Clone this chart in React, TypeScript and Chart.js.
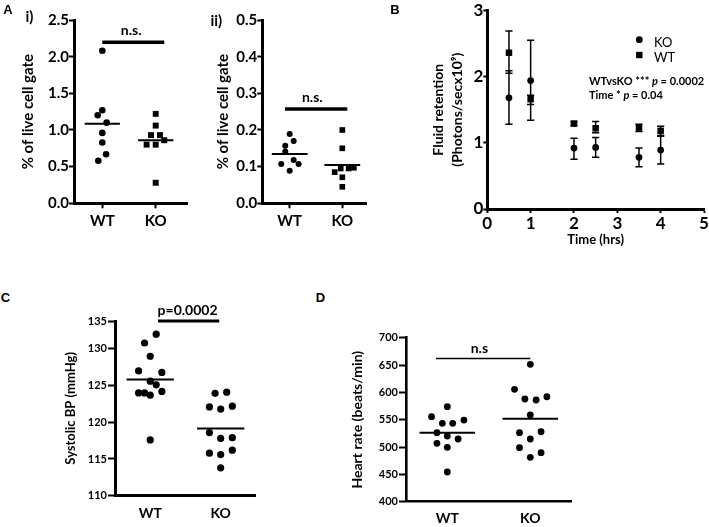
import React, { useEffect, useRef } from 'react';
import { Chart, registerables } from 'chart.js';

Chart.register(...registerables);

const FONT = 'Lato, "Open Sans", sans-serif';
Chart.defaults.font.family = FONT;
Chart.defaults.color = '#000';

const groups = ['WT', 'KO'];

// ---- Panel A i) ----
const a1WT = [2.08, 1.27, 1.2, 1.1, 0.96, 0.83, 0.67, 0.58];
const a1WTSpread = [0, 0, -0.086, 0.082, 0, 0, 0.07, -0.075];
const a1KO = [1.22, 1.06, 0.93, 0.93, 0.8, 0.8, 0.86, 0.28];
const a1KOSpread = [0, 0, -0.088, 0.08, -0.17, 0, 0.16, 0];
const a1Ticks = [0, 0.5, 1, 1.5, 2, 2.5];
const a1TickLabels = ['0.0', '0.5', '1.0', '1.5', '2.0', '2.5'];

// ---- Panel A ii) ----
const a2WT = [0.189, 0.17, 0.157, 0.141, 0.118, 0.107, 0.107, 0.089];
const a2WTSpread = [0, 0.076, -0.084, -0.084, 0.076, -0.16, 0.17, 0];
const a2KO = [0.2, 0.15, 0.097, 0.095, 0.095, 0.085, 0.071, 0.045];
const a2KOSpread = [0, 0, 0.22, 0.12, -0.03, -0.145, 0, 0];
const a2Ticks = [0, 0.1, 0.2, 0.3, 0.4, 0.5];
const a2TickLabels = ['0.0', '0.1', '0.2', '0.3', '0.4', '0.5'];

// ---- Panel B ----
const bTimes = [0.5, 1, 2, 2.5, 3.5, 4];
const bKO = [1.68, 1.94, 0.92, 0.93, 0.78, 0.89];
const bKOHigh = [2.09, 2.55, 1.07, 1.08, 0.92, 1.11];
const bKOLow = [1.28, 1.34, 0.75, 0.78, 0.64, 0.68];
const bWT = [2.36, 1.66, 1.29, 1.22, 1.23, 1.18];
const bWTHigh = [2.69, 1.72, 1.32, 1.32, 1.28, 1.25];
const bWTLow = [2.05, 1.58, 1.26, 1.15, 1.17, 1.1];
const bXTicks = [0, 1, 2, 3, 4, 5];
const bYTicks = [0, 1, 2, 3];

// ---- Panel C ----
const cWT = [132, 130.8, 129, 127, 126.8, 125.6, 125.1, 124, 124, 123.7, 124.2, 117.6];
const cWTSpread = [0.085, -0.08, 0, -0.165, 0.165, 0, 0.085, -0.165, -0.08, 0, 0.165, 0];
const cKO = [123.95, 124.1, 122.1, 121.8, 122.2, 118.6, 117.8, 117.9, 115.8, 115.6, 116.2, 113.8];
const cKOSpread = [-0.08, 0.085, -0.16, 0, 0.165, -0.16, 0, 0.165, -0.16, 0, 0.165, 0];
const cTickValues = [110, 115, 120, 125, 130, 133.8];
const cTickLabels = ['110', '115', '120', '125', '130', '135'];

// ---- Panel D ----
const dWT = [573.8, 555.5, 543.4, 543.4, 549.4, 526.2, 520.2, 514.7, 506.8, 499.5, 454.3];
const dWTSpread = [0, -0.19, -0.06, 0.065, 0.2, -0.125, 0, 0.13, -0.125, 0, 0];
const dKO = [651.3, 605.6, 587.9, 586, 592, 558.6, 526.2, 528, 514.7, 498.8, 489.6, 481.2];
const dKOSpread = [0, -0.19, -0.065, 0.07, 0.2, 0, -0.13, 0.13, 0, -0.13, 0.13, 0];
const dTicks = [400, 450, 500, 550, 600, 650, 700];
const dTickLabels = ['400', '450', '500', '550', '600', '650', '700'];

const mean = (a: number[]) => a.reduce((s, v) => s + v, 0) / a.length;

const panelTextPlugin = {
  id: 'panelText',
  afterDatasetsDraw(chart: any, _args: any, opts: any) {
    const { ctx, scales } = chart;
    const items = opts.items || [];
    for (let i = 0; i < items.length; i++) {
      const it = items[i];
      ctx.save();
      ctx.fillStyle = '#000';
      ctx.font = `bold ${it.size}px ${FONT}`;
      ctx.textAlign = 'center';
      ctx.textBaseline = 'middle';
      ctx.fillText(it.text, scales.x.getPixelForValue(it.x), scales.y.getPixelForValue(it.y) + it.dy);
      ctx.restore();
    }
  },
};

const errorBarPlugin = {
  id: 'errorBars',
  beforeDatasetsDraw(chart: any, _args: any, opts: any) {
    const { ctx, scales } = chart;
    ctx.save();
    ctx.strokeStyle = '#000';
    ctx.lineWidth = opts.lineWidth;
    const sets = opts.sets || [];
    for (let s = 0; s < sets.length; s++) {
      const set = sets[s];
      for (let i = 0; i < set.x.length; i++) {
        const px = scales.x.getPixelForValue(set.x[i]);
        const top = scales.y.getPixelForValue(set.hi[i]);
        const bot = scales.y.getPixelForValue(set.lo[i]);
        ctx.beginPath();
        ctx.moveTo(px, top);
        ctx.lineTo(px, bot);
        ctx.moveTo(px - opts.cap, top);
        ctx.lineTo(px + opts.cap, top);
        ctx.moveTo(px - opts.cap, bot);
        ctx.lineTo(px + opts.cap, bot);
        ctx.stroke();
      }
    }
    ctx.restore();
  },
};

const bNotesPlugin = {
  id: 'bNotes',
  afterDatasetsDraw(chart: any, _args: any, opts: any) {
    const { ctx, chartArea } = chart;
    const L = chartArea.left;
    const T = chartArea.top;
    ctx.save();
    ctx.fillStyle = '#000';
    const legend = opts.legend || [];
    for (let i = 0; i < legend.length; i++) {
      const it = legend[i];
      const ds = chart.data.datasets[it.dataset];
      const mx = L + it.mx;
      const my = T + it.my;
      ctx.beginPath();
      if (ds.pointStyle === 'circle') ctx.arc(mx, my, it.r, 0, Math.PI * 2);
      else ctx.rect(mx - it.r, my - it.r, 2 * it.r, 2 * it.r);
      ctx.fill();
      ctx.font = `${it.size}px ${FONT}`;
      ctx.textAlign = 'left';
      ctx.textBaseline = 'middle';
      ctx.fillText(ds.label, L + it.tx, T + it.ty);
    }
    const lines = opts.lines || [];
    for (let i = 0; i < lines.length; i++) {
      const ln = lines[i];
      let x = L + ln.x;
      const y = T + ln.y;
      for (let j = 0; j < ln.parts.length; j++) {
        const p = ln.parts[j];
        ctx.font = `${p.italic ? 'italic ' : ''}bold ${ln.size}px ${FONT}`;
        ctx.textAlign = 'left';
        ctx.textBaseline = 'middle';
        ctx.fillText(p.t, x, y);
        x += ctx.measureText(p.t).width;
      }
    }
    ctx.restore();
  },
};

type DotSpec = {
  wt: number[]; wtSpread: number[]; ko: number[]; koSpread: number[];
  koShape: string; dotR: number; sqR: number;
  xMin: number; xMax: number; yMin: number; yMax: number;
  yTicks: number[]; yLabels: string[];
  sig: { from: number; to: number; y: number; text: string; textX: number; dy: number; width: number; size: number };
  meanHalf: number; meanWidth: number; axisWidth: number;
  yTitle: string; yTitleSize: number; yTitlePad: number;
  yTickSize: number; yTickLen: number; yTickPad: number;
  xTickSize: number; xTickLen: number; xTickPad: number;
  box: { yAxisW: number; xAxisH: number; padTop: number; padRight: number };
};

function dotConfig(s: DotSpec): any {
  const toPts = (vals: number[], spread: number[], c: number) => vals.map((v, i) => ({ x: c + spread[i], y: v }));
  const mw = mean(s.wt);
  const mk = mean(s.ko);
  const lineDs = (pts: any[], w: number) => ({
    type: 'line', data: pts, borderColor: '#000', borderWidth: w, pointRadius: 0,
    fill: false, clip: false, tension: 0, borderCapStyle: 'butt',
  });
  return {
    type: 'scatter',
    data: {
      datasets: [
        { label: 'WT', data: toPts(s.wt, s.wtSpread, 1), pointStyle: 'circle', pointRadius: s.dotR,
          pointBackgroundColor: '#000', backgroundColor: '#000', pointBorderWidth: 0, borderWidth: 0, clip: false },
        { label: 'KO', data: toPts(s.ko, s.koSpread, 2), pointStyle: s.koShape,
          pointRadius: s.koShape === 'rect' ? s.sqR : s.dotR,
          pointBackgroundColor: '#000', backgroundColor: '#000', pointBorderWidth: 0, borderWidth: 0, clip: false },
        lineDs([{ x: 1 - s.meanHalf, y: mw }, { x: 1 + s.meanHalf, y: mw }], s.meanWidth),
        lineDs([{ x: 2 - s.meanHalf, y: mk }, { x: 2 + s.meanHalf, y: mk }], s.meanWidth),
        lineDs([{ x: s.sig.from, y: s.sig.y }, { x: s.sig.to, y: s.sig.y }], s.sig.width),
      ],
    },
    options: {
      responsive: false,
      animation: false,
      devicePixelRatio: 1,
      events: [],
      layout: { padding: { left: 0, top: s.box.padTop, right: s.box.padRight, bottom: 0 } },
      plugins: {
        legend: { display: false },
        tooltip: { enabled: false },
        panelText: { items: [{ text: s.sig.text, x: s.sig.textX, y: s.sig.y, dy: s.sig.dy, size: s.sig.size }] },
      },
      scales: {
        x: {
          type: 'linear', min: s.xMin, max: s.xMax,
          afterBuildTicks: (ax: any) => { ax.ticks = [{ value: 1 }, { value: 2 }]; },
          afterFit: (ax: any) => { ax.height = s.box.xAxisH; },
          ticks: {
            callback: (v: number) => groups[Math.round(v) - 1] ?? '',
            color: '#000', font: { family: FONT, size: s.xTickSize, weight: 'bold' },
            padding: s.xTickPad, autoSkip: false, maxRotation: 0, minRotation: 0,
          },
          grid: { drawOnChartArea: false, drawTicks: s.xTickLen > 0, tickLength: s.xTickLen, tickWidth: 2, tickColor: '#000' },
          border: { display: true, color: '#000', width: s.axisWidth },
        },
        y: {
          type: 'linear', min: s.yMin, max: s.yMax,
          afterBuildTicks: (ax: any) => { ax.ticks = s.yTicks.map((v) => ({ value: v })); },
          afterFit: (ax: any) => { ax.width = s.box.yAxisW; },
          ticks: {
            callback: (_v: number, i: number) => s.yLabels[i],
            color: '#000', font: { family: FONT, size: s.yTickSize, weight: 'bold' },
            padding: s.yTickPad, autoSkip: false,
          },
          grid: { drawOnChartArea: false, drawTicks: true, tickLength: s.yTickLen, tickWidth: 2, tickColor: '#000' },
          border: { display: true, color: '#000', width: s.axisWidth },
          title: {
            display: true, text: s.yTitle, color: '#000',
            font: { family: FONT, size: s.yTitleSize, weight: 'bold' },
            padding: { top: s.yTitlePad, bottom: 0 },
          },
        },
      },
    },
    plugins: [panelTextPlugin],
  };
}

const specA1: DotSpec = {
  wt: a1WT, wtSpread: a1WTSpread, ko: a1KO, koSpread: a1KOSpread,
  koShape: 'rect', dotR: 3.3, sqR: 4.2,
  xMin: 0.47, xMax: 2.586, yMin: 0, yMax: 2.5, yTicks: a1Ticks, yLabels: a1TickLabels,
  sig: { from: 1, to: 2.16, y: 2.195, text: 'n.s.', textX: 1.54, dy: -11.6, width: 3.5, size: 14 },
  meanHalf: 0.33, meanWidth: 2, axisWidth: 3,
  yTitle: '% of live cell gate', yTitleSize: 15, yTitlePad: 9.3,
  yTickSize: 15, yTickLen: 5, yTickPad: 0,
  xTickSize: 15, xTickLen: 5, xTickPad: 3.7,
  box: { yAxisW: 64, xAxisH: 28.7, padTop: 30, padRight: 5 },
};

const specA2: DotSpec = {
  wt: a2WT, wtSpread: a2WTSpread, ko: a2KO, koSpread: a2KOSpread,
  koShape: 'rect', dotR: 3, sqR: 4,
  xMin: 0.48, xMax: 2.45, yMin: 0, yMax: 0.5, yTicks: a2Ticks, yLabels: a2TickLabels,
  sig: { from: 0.91, to: 2.095, y: 0.257, text: 'n.s.', textX: 1.43, dy: -11.7, width: 3.5, size: 14 },
  meanHalf: 0.34, meanWidth: 2, axisWidth: 3,
  yTitle: '% of live cell gate', yTitleSize: 15, yTitlePad: 14.3,
  yTickSize: 15, yTickLen: 5, yTickPad: 0,
  xTickSize: 15, xTickLen: 5, xTickPad: 3.7,
  box: { yAxisW: 62.3, xAxisH: 28.7, padTop: 30, padRight: 6 },
};

const specC: DotSpec = {
  wt: cWT, wtSpread: cWTSpread, ko: cKO, koSpread: cKOSpread,
  koShape: 'circle', dotR: 3.6, sqR: 4,
  xMin: 0.5, xMax: 2.487, yMin: 110, yMax: 133.8, yTicks: cTickValues, yLabels: cTickLabels,
  sig: { from: 1.11, to: 1.98, y: 133.8, text: 'p=0.0002', textX: 1.53, dy: -11, width: 3.2, size: 14 },
  meanHalf: 0.335, meanWidth: 2, axisWidth: 3,
  yTitle: 'Systolic BP (mmHg)', yTitleSize: 13, yTitlePad: 8.2,
  yTickSize: 11, yTickLen: 7, yTickPad: 1,
  xTickSize: 14, xTickLen: 0, xTickPad: 9.2,
  box: { yAxisW: 60, xAxisH: 31.3, padTop: 41, padRight: 15 },
};

const specD: DotSpec = {
  wt: dWT, wtSpread: dWTSpread, ko: dKO, koSpread: dKOSpread,
  koShape: 'circle', dotR: 3.4, sqR: 4,
  xMin: 0.502, xMax: 2.499, yMin: 400, yMax: 700, yTicks: dTicks, yLabels: dTickLabels,
  sig: { from: 0.864, to: 2.0, y: 662, text: 'n.s', textX: 1.386, dy: -10, width: 1.6, size: 14 },
  meanHalf: 0.335, meanWidth: 2, axisWidth: 2.6,
  yTitle: 'Heart rate (beats/min)', yTitleSize: 14, yTitlePad: 8.9,
  yTickSize: 11, yTickLen: 7, yTickPad: 1,
  xTickSize: 14, xTickLen: 0, xTickPad: 8.2,
  box: { yAxisW: 66, xAxisH: 25.3, padTop: 37.7, padRight: 18.3 },
};

function bConfig(): any {
  return {
    type: 'scatter',
    data: {
      datasets: [
        { label: 'KO', data: bTimes.map((t, i) => ({ x: t, y: bKO[i] })), pointStyle: 'circle', pointRadius: 3.4,
          pointBackgroundColor: '#000', backgroundColor: '#000', pointBorderWidth: 0, borderWidth: 0, clip: false },
        { label: 'WT', data: bTimes.map((t, i) => ({ x: t, y: bWT[i] })), pointStyle: 'rect', pointRadius: 4.6,
          pointBackgroundColor: '#000', backgroundColor: '#000', pointBorderWidth: 0, borderWidth: 0, clip: false },
      ],
    },
    options: {
      responsive: false,
      animation: false,
      devicePixelRatio: 1,
      events: [],
      layout: { padding: { left: 0, top: 20.4, right: 16, bottom: 0 } },
      plugins: {
        legend: { display: false },
        tooltip: { enabled: false },
        errorBars: {
          lineWidth: 1.5, cap: 3.6,
          sets: [
            { x: bTimes, hi: bKOHigh, lo: bKOLow },
            { x: bTimes, hi: bWTHigh, lo: bWTLow },
          ],
        },
        bNotes: {
          legend: [
            { dataset: 0, mx: 152, my: 29.3, r: 3.4, tx: 166.7, ty: 32.3, size: 13 },
            { dataset: 1, mx: 152, my: 44.6, r: 3.2, tx: 166.7, ty: 47.9, size: 13 },
          ],
          lines: [
            { x: 101.7, y: 71.3, size: 11, parts: [{ t: 'WTvsKO *** ' }, { t: 'p', italic: true }, { t: ' = 0.0002' }] },
            { x: 101.7, y: 84.6, size: 11, parts: [{ t: 'Time * ' }, { t: 'p', italic: true }, { t: ' = 0.04' }] },
          ],
        },
      },
      scales: {
        x: {
          type: 'linear', min: 0, max: 5,
          afterBuildTicks: (ax: any) => { ax.ticks = bXTicks.map((v) => ({ value: v })); },
          afterFit: (ax: any) => { ax.height = 41; },
          ticks: { color: '#000', font: { family: FONT, size: 17, weight: 'bold' }, padding: 0, autoSkip: false, maxRotation: 0 },
          grid: { drawOnChartArea: false, drawTicks: true, tickLength: 4, tickWidth: 2, tickColor: '#000' },
          border: { display: true, color: '#000', width: 3 },
          title: {
            display: true, text: 'Time (hrs)', color: '#000',
            font: { family: FONT, size: 13, weight: 'bold' },
            padding: { top: 0, bottom: 2.1 },
          },
        },
        y: {
          type: 'linear', min: 0, max: 3,
          afterBuildTicks: (ax: any) => { ax.ticks = bYTicks.map((v) => ({ value: v })); },
          afterFit: (ax: any) => { ax.width = 67.3; },
          ticks: { color: '#000', font: { family: FONT, size: 17, weight: 'bold' }, padding: 0, autoSkip: false },
          grid: { drawOnChartArea: false, drawTicks: true, tickLength: 4, tickWidth: 2, tickColor: '#000' },
          border: { display: true, color: '#000', width: 3 },
          title: {
            display: true, text: ['Fluid retention', '(Photons/secx10⁹)'], color: '#000',
            font: { family: FONT, size: 14, weight: 'bold', lineHeight: '19px' },
            padding: { top: 8.5, bottom: 0 },
          },
        },
      },
    },
    plugins: [errorBarPlugin, bNotesPlugin],
  };
}

const canvasBoxes = [
  { left: 10, top: -10, w: 182, h: 242 },
  { left: 200, top: -10, w: 172, h: 242 },
  { left: 420, top: -10, w: 300, h: 260 },
  { left: 55, top: 280, w: 215, h: 247 },
  { left: 340, top: 300, w: 250, h: 227 },
];

const textLabels = [
  { text: 'A', x: 8, y: 9, font: `bold 13px "Liberation Sans", Arial, sans-serif` },
  { text: 'i)', x: 29.5, y: 15.5, font: `bold 15px ${FONT}` },
  { text: 'ii)', x: 216.3, y: 20, font: `bold 15px ${FONT}` },
  { text: 'B', x: 395, y: 9, font: `bold 13px "Liberation Sans", Arial, sans-serif` },
  { text: 'C', x: 5.5, y: 297, font: `bold 13px "Liberation Sans", Arial, sans-serif` },
  { text: 'D', x: 320.5, y: 297, font: `bold 13px "Liberation Sans", Arial, sans-serif` },
];

export default function App() {
  const refs = [useRef<HTMLCanvasElement>(null), useRef<HTMLCanvasElement>(null), useRef<HTMLCanvasElement>(null),
    useRef<HTMLCanvasElement>(null), useRef<HTMLCanvasElement>(null)];

  useEffect(() => {
    const configs = [dotConfig(specA1), dotConfig(specA2), bConfig(), dotConfig(specC), dotConfig(specD)];
    const charts: Chart[] = [];
    configs.forEach((cfg, i) => {
      const el = refs[i].current;
      if (el) charts.push(new Chart(el, cfg));
    });
    return () => charts.forEach((c) => c.destroy());
  }, []);

  return (
    <div style={{ position: 'fixed', left: 0, top: 0, width: 709, height: 527, overflow: 'hidden', background: '#fff' }}>
      {canvasBoxes.map((b, i) => (
        <canvas key={i} ref={refs[i]} width={b.w} height={b.h}
          style={{ position: 'absolute', left: b.left, top: b.top, width: b.w, height: b.h }} />
      ))}
      {textLabels.map((t, i) => (
        <div key={'t' + i} style={{ position: 'absolute', left: t.x, top: t.y, transform: 'translate(-50%, -50%)', font: t.font, lineHeight: 1, whiteSpace: 'nowrap', color: '#000' }}>{t.text}</div>
      ))}
    </div>
  );
}
